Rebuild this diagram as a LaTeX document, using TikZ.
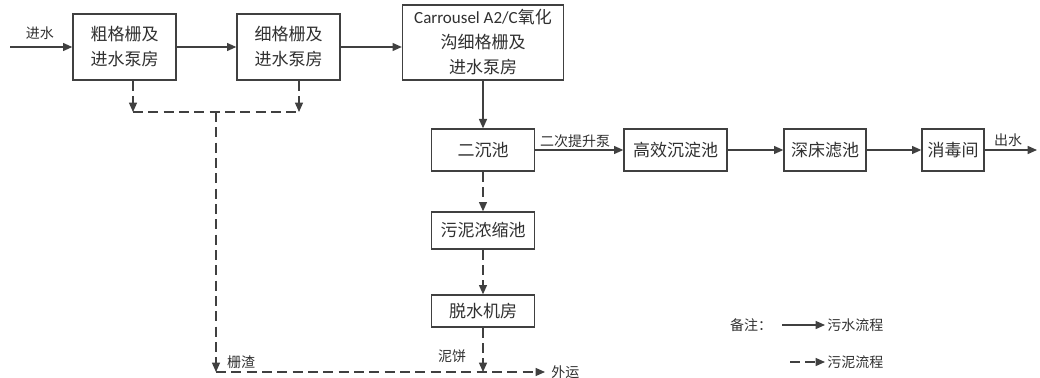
\documentclass[tikz,border=0pt]{standalone}
\usepackage{fontspec}
\setmainfont{Noto Sans CJK SC}
\newfontfamily\lat{Carlito}
\usetikzlibrary{arrows.meta}
\definecolor{ln}{HTML}{404040}
\definecolor{tx}{HTML}{303030}
\tikzset{
  box/.style={draw=ln, line width=1pt, fill=white, text=tx, align=center, inner sep=0pt,
    font=\fontsize{12.75pt}{18.75pt}\selectfont},
  lbl/.style={text=tx, inner sep=0pt, font=\fontsize{10.5pt}{12pt}\selectfont},
  flow/.style={draw=ln, line width=1pt, -{Triangle[length=7pt,width=6pt]}},
  sflow/.style={draw=ln, line width=1pt, dash pattern=on 7.5pt off 4pt, -{Triangle[length=7pt,width=6pt]}},
  sline/.style={draw=ln, line width=1pt, dash pattern=on 7.5pt off 4pt}
}
\begin{document}
\begin{tikzpicture}[x=0.75pt,y=-0.75pt]
\useasboundingbox (0,0) rectangle (1040,378);
% boxes
\node[box, minimum width=77.25pt, minimum height=49.5pt] (b1) at (124.5,47) {粗格栅及\\进水泵房};
\node[box, minimum width=77.25pt, minimum height=49.5pt] (b2) at (288.5,47) {细格栅及\\进水泵房};
\node[box, minimum width=120.75pt, minimum height=56.25pt] (b3) at (483,42.5) {{\lat Carrousel A2/C}氧化\\沟细格栅及\\进水泵房};
\node[box, minimum width=77.25pt, minimum height=31.5pt] (s1) at (483,150) {二沉池};
\node[box, minimum width=77.25pt, minimum height=31.5pt] (s2) at (675.5,150) {高效沉淀池};
\node[box, minimum width=61.5pt, minimum height=31.5pt] (s3) at (825,150) {深床滤池};
\node[box, minimum width=46.5pt, minimum height=31.5pt] (s4) at (953,150) {消毒间};
\node[box, minimum width=77.25pt, minimum height=27.75pt] (n1) at (483,230.5) {污泥浓缩池};
\node[box, minimum width=77.25pt, minimum height=24pt] (n2) at (483,311) {脱水机房};
% coordinates
\coordinate (in) at (10,47);
\coordinate (out) at (1037,150);
\coordinate (d1) at (133,112);
\coordinate (d2) at (299,112);
\coordinate (dm) at (216,112);
\coordinate (bl) at (216,372);
\coordinate (bc) at (483,372);
\coordinate (be) at (545,372);
% water flow
\draw[flow] (in) -- (b1);
\draw[flow] (b1) -- (b2);
\draw[flow] (b2.east) -- (b3.west |- b2.east);
\draw[flow] (b3) -- (s1);
\draw[flow] (s1) -- (s2);
\draw[flow] (s2) -- (s3);
\draw[flow] (s3) -- (s4);
\draw[flow] (s4) -- (out);
\node[lbl] (l1) at (40,33) {进水};
\node[lbl] (l2) at (575,141) {二次提升泵};
\node[lbl] (l3) at (1008,140) {出水};
% sludge flow
\draw[sflow] (b1.south -| d1) -- (d1);
\draw[sflow] (b2.south -| d2) -- (d2);
\draw[sline] (d1) -- (d2);
\draw[sflow] (dm) -- (bl);
\draw[sflow] (bl) -- (be);
\draw[sflow] (s1) -- (n1);
\draw[sflow] (n1) -- (n2);
\draw[sflow] (n2) -- (bc);
\node[lbl] (l4) at (241,362) {栅渣};
\node[lbl] (l5) at (452,356) {泥饼};
\node[lbl, anchor=west] (l6) at (551,372) {外运};
% legend
\node[lbl] (lg) at (751,325) {备注：};
\coordinate (la1) at (782,325);
\coordinate (la2) at (825,325);
\coordinate (lb1) at (790,362);
\coordinate (lb2) at (825,362);
\draw[flow] (la1) -- (la2);
\draw[sflow] (lb1) -- (lb2);
\node[lbl, anchor=west] (lt1) at (827,325) {污水流程};
\node[lbl, anchor=west] (lt2) at (827,362) {污泥流程};
\end{tikzpicture}
\end{document}
